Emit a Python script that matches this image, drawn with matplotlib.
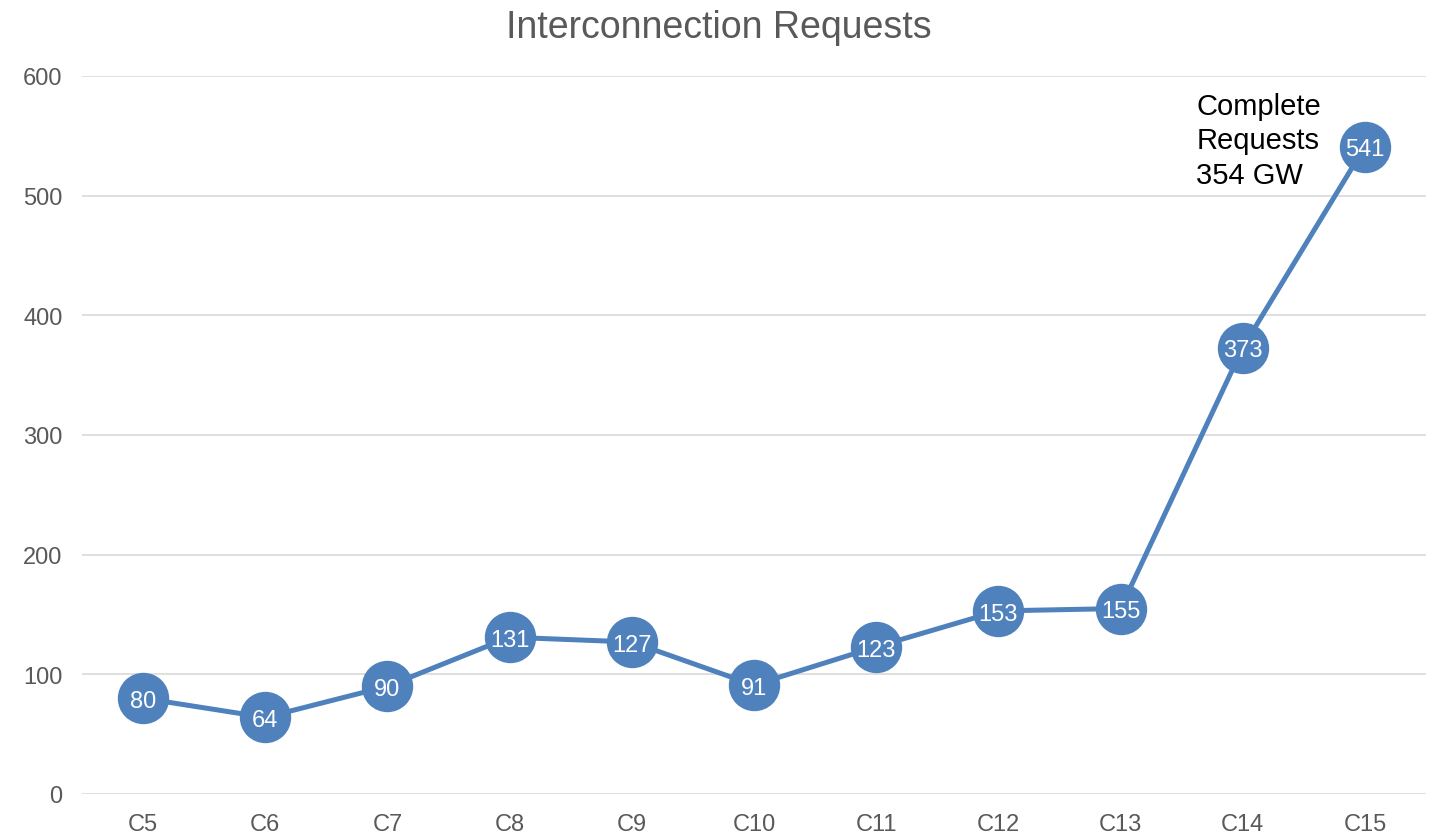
import matplotlib.pyplot as plt
from matplotlib.ticker import MultipleLocator

plt.rcParams['font.family'] = ['Liberation Sans', 'DejaVu Sans']

categories = ['C5', 'C6', 'C7', 'C8', 'C9', 'C10', 'C11', 'C12', 'C13', 'C14', 'C15']
requests = [80, 64, 90, 131, 127, 91, 123, 153, 155, 373, 541]
note = 'Complete\nRequests\n354 GW'

line_color = '#4F81BD'
grey_text = '#595959'

fig = plt.figure(figsize=(14.37, 8.37), dpi=100)
ax = fig.add_axes([82 / 1437, 42 / 837, (1426 - 82) / 1437, 718 / 837])

x = list(range(len(categories)))
ax.plot(x, requests, color=line_color, linewidth=3.6, marker='o',
        markersize=37, markeredgewidth=0, zorder=3, clip_on=False)

# value labels inside the markers
for xi, v in zip(x, requests):
    ax.annotate(str(v), (xi, v), xytext=(0, -2), textcoords='offset points',
                ha='center', va='center', color='white', fontsize=17, zorder=4)

ax.text(8.62, 587, note, ha='left', va='top', fontsize=21, color='black',
        linespacing=1.3)

ax.set_xlim(-0.5, len(categories) - 0.5)
ax.set_ylim(0, 600)
ax.yaxis.set_major_locator(MultipleLocator(100))
ax.set_xticks(x)
ax.set_xticklabels(categories)

ax.grid(axis='y', color='#D9D9D9', linewidth=1.2)
ax.set_axisbelow(True)
for side in ['top', 'right', 'left', 'bottom']:
    ax.spines[side].set_visible(False)
ax.tick_params(axis='both', length=0, labelsize=17, colors=grey_text)
ax.tick_params(axis='y', pad=14)
ax.tick_params(axis='x', pad=14)

fig.text(0.5, 1 - 28 / 837, 'Interconnection Requests', ha='center', va='center',
         fontsize=27, color=grey_text)

fig.savefig('out.png', dpi=100)
